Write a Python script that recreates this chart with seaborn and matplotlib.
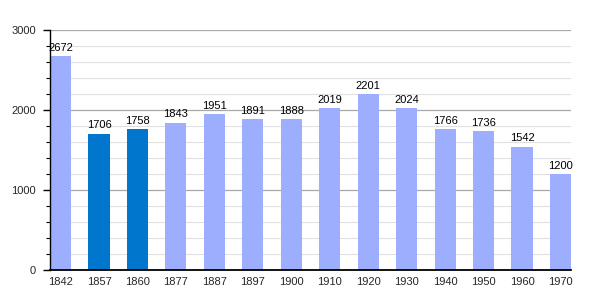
import matplotlib
matplotlib.use("Agg")
import matplotlib.pyplot as plt
import seaborn as sns
import pandas as pd
from matplotlib.ticker import MultipleLocator

years = ["1842", "1857", "1860", "1877", "1887", "1897", "1900", "1910",
         "1920", "1930", "1940", "1950", "1960", "1970"]
population = [2672, 1706, 1758, 1843, 1951, 1891, 1888, 2019, 2201, 2024,
              1766, 1736, 1542, 1200]
highlight = [False, True, True, False, False, False, False, False, False,
             False, False, False, False, False]

df = pd.DataFrame({"year": years, "pop": population, "hl": highlight})

sns.set_theme(style="white")
plt.rcParams["font.family"] = ["Liberation Sans", "DejaVu Sans"]

fig = plt.figure(figsize=(6, 3), dpi=100)
ax = fig.add_axes([50/600, 30/300, 521/600, 240/300])

light = "#9daeff"
dark = "#0077cc"
palette = [dark if h else light for h in highlight]

sns.barplot(data=df, x="year", y="pop", hue="year", palette=palette,
            legend=False, width=0.55, ax=ax, saturation=1, zorder=3,
            linewidth=0, edgecolor="none")

ax.set_xlim(-0.275, 13.275)
ax.set_ylim(0, 3000)
ax.yaxis.set_major_locator(MultipleLocator(1000))
ax.yaxis.set_minor_locator(MultipleLocator(200))
ax.grid(which="major", axis="y", color="#a8a8a8", linewidth=0.9, zorder=0)
ax.grid(which="minor", axis="y", color="#e0e0e0", linewidth=0.8, zorder=0)
ax.set_axisbelow(True)

for s in ["top", "right"]:
    ax.spines[s].set_visible(False)
ax.spines["left"].set_color("black")
ax.spines["bottom"].set_color("black")
ax.spines["left"].set_linewidth(1)
ax.spines["bottom"].set_linewidth(1.3)
ax.spines["left"].set_zorder(5)
ax.spines["bottom"].set_zorder(5)

ax.tick_params(axis="y", which="major", left=True, length=5, width=1,
               color="black", labelsize=8, pad=5)
ax.tick_params(axis="y", which="minor", left=True, length=3, width=0.8,
               color="black")
ax.tick_params(axis="x", bottom=False, labelsize=8, pad=-1)
ax.set_xlabel("")
ax.set_ylabel("")

for i, v in enumerate(population):
    ax.text(i, v + 40, str(v), ha="center", va="bottom", fontsize=8,
            color="black", zorder=6)

fig.savefig("out.png", dpi=100)
